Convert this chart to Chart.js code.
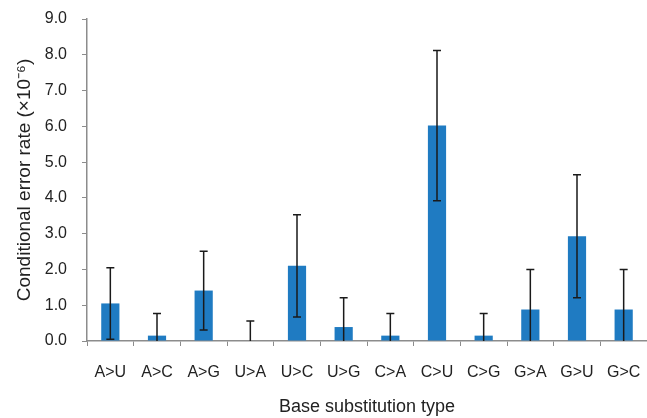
<!DOCTYPE html>
<html lang="en">
<head>
    <meta charset="UTF-8">
    <title>Conditional error rate by base substitution</title>
    <script src="https://cdn.jsdelivr.net/npm/chart.js"></script>
    <style>
        html, body { margin: 0; padding: 0; background: #fff; }
        #wrap { width: 647px; height: 418px; }
    </style>
</head>
<body>
    <div id="wrap"><canvas id="errChart" width="647" height="418"></canvas></div>

    <script>
        // substitution types and rates (x10^-6), with error bar half-widths
        const substitutions = ['A>U', 'A>C', 'A>G', 'U>A', 'U>C', 'U>G', 'C>A', 'C>U', 'C>G', 'G>A', 'G>U', 'G>C'];
        const errorRates = [1.05, 0.15, 1.41, 0.0, 2.10, 0.39, 0.15, 6.02, 0.15, 0.88, 2.93, 0.88];
        const errorSpread = [1.00, 0.62, 1.10, 0.56, 1.43, 0.82, 0.62, 2.10, 0.62, 1.12, 1.72, 1.12];
        const yTicks = [0, 1, 2, 3, 4, 5, 6, 7, 8, 9];

        const fontFamily = '"Liberation Sans", Arial, sans-serif';
        const axisGray = '#8c8c8c';

        // draws the vertical error bars with caps
        const errorBars = {
            id: 'errorBars',
            afterDatasetsDraw(chart) {
                const ctx = chart.ctx;
                const meta = chart.getDatasetMeta(0);
                const y = chart.scales.y;
                ctx.save();
                ctx.strokeStyle = '#1a1a1a';
                ctx.lineWidth = 1.5;
                meta.data.forEach((bar, i) => {
                    const hi = y.getPixelForValue(errorRates[i] + errorSpread[i]);
                    const lo = y.getPixelForValue(Math.max(0, errorRates[i] - errorSpread[i]));
                    const x = bar.x;
                    ctx.beginPath();
                    ctx.moveTo(x, lo);
                    ctx.lineTo(x, hi);
                    ctx.moveTo(x - 4, hi);
                    ctx.lineTo(x + 4, hi);
                    if (errorRates[i] - errorSpread[i] > 0) {
                        ctx.moveTo(x - 4, lo);
                        ctx.lineTo(x + 4, lo);
                    }
                    ctx.stroke();
                });
                ctx.restore();
            }
        };

        new Chart(document.getElementById('errChart').getContext('2d'), {
            type: 'bar',
            data: {
                labels: substitutions,
                datasets: [{
                    data: errorRates,
                    backgroundColor: '#1f7bc2',
                    borderWidth: 0,
                    barPercentage: 0.78,
                    categoryPercentage: 0.5
                }]
            },
            options: {
                responsive: false,
                animation: false,
                layout: { padding: { top: 19, right: 0, left: 0, bottom: 0 } },
                plugins: {
                    legend: { display: false },
                    tooltip: { enabled: false }
                },
                scales: {
                    x: {
                        afterFit: (scale) => {
                            scale.height = 77;
                            scale.paddingLeft = 0;
                            scale.paddingRight = 0;
                        },
                        grid: {
                            offset: true,
                            drawOnChartArea: false,
                            color: axisGray,
                            tickLength: 5
                        },
                        border: { color: axisGray, width: 1.5 },
                        ticks: {
                            color: '#222',
                            padding: 17,
                            maxRotation: 0,
                            font: { family: fontFamily, size: 16 }
                        },
                        title: {
                            display: true,
                            text: 'Base substitution type',
                            color: '#222',
                            padding: { top: 0, bottom: 0 },
                            font: { family: fontFamily, size: 18 }
                        }
                    },
                    y: {
                        min: 0,
                        max: 9,
                        afterFit: (scale) => {
                            scale.width = 87;
                            scale.paddingTop = 0;
                        },
                        afterBuildTicks: (scale) => { scale.ticks = yTicks.map(v => ({ value: v })); },
                        grid: {
                            drawOnChartArea: false,
                            color: axisGray,
                            tickLength: 5
                        },
                        border: { color: axisGray, width: 1.5 },
                        ticks: {
                            color: '#222',
                            padding: 15,
                            font: { family: fontFamily, size: 16 },
                            callback: (v) => Number(v).toFixed(1)
                        },
                        title: {
                            display: true,
                            text: 'Conditional error rate (×10⁻⁶)',
                            color: '#222',
                            padding: { top: 13, bottom: 0 },
                            font: { family: fontFamily, size: 19 }
                        }
                    }
                }
            },
            plugins: [errorBars]
        });
    </script>
</body>
</html>
